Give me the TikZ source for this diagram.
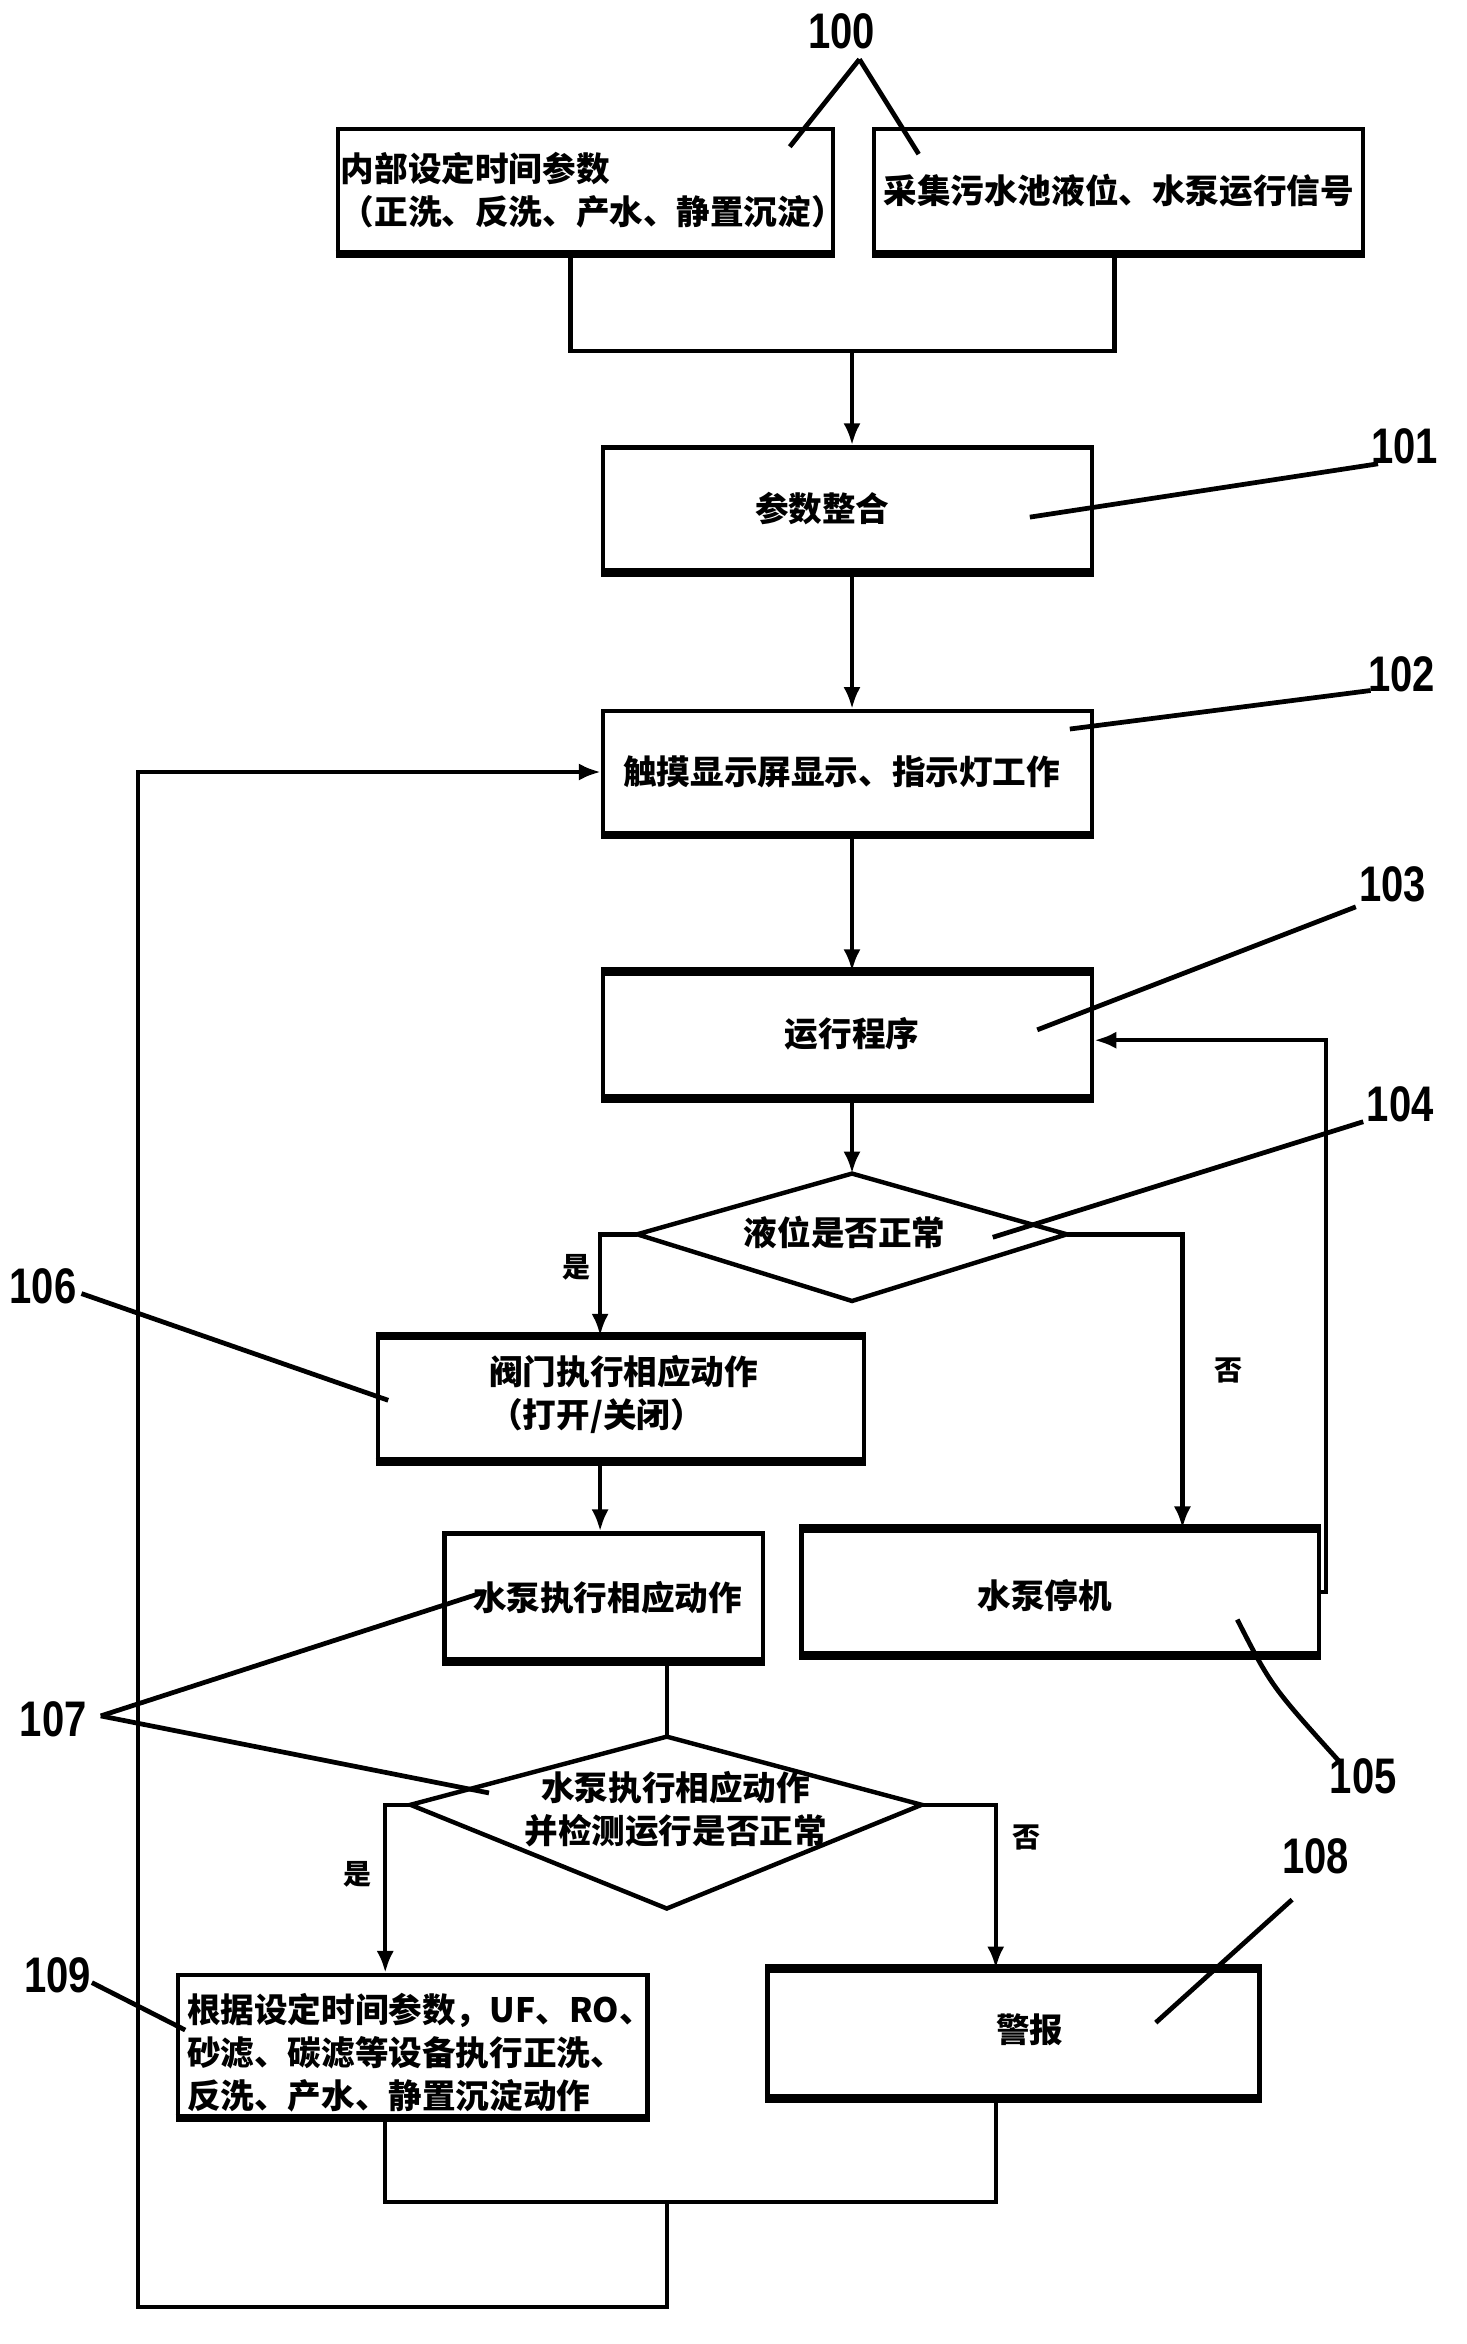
\documentclass[tikz,border=0pt]{standalone}
\usepackage{fontspec}
\usetikzlibrary{arrows.meta}
\setmainfont{Liberation Sans}
\newfontfamily\cjk{Noto Sans CJK SC}
\newfontfamily\numfont{Liberation Sans}[FakeStretch=0.8]
\newlength\px
\setlength\px{0.7409pt}
\tikzset{
  box/.style={draw, line width=3\px, inner sep=0pt, font=\cjk\bfseries\fontsize{16.8}{21.5}\selectfont},
  txt/.style={inner sep=0pt, font=\cjk\bfseries\fontsize{16.8}{21.5}\selectfont},
  yn/.style={inner sep=0pt, font=\cjk\bfseries\fontsize{14}{16}\selectfont},
  lbl/.style={inner sep=0pt, font=\numfont\bfseries\fontsize{25}{25}\selectfont},
  ln/.style={line width=3\px},
  arr/.style={line width=3\px, -{Latex[length=11pt,width=8.6pt]}},
  lead/.style={line width=3.2\px},
  edge/.style={line width=5.5\px}
}
\begin{document}
\begin{tikzpicture}[x=0.7409pt, y=-0.7409pt]
\useasboundingbox (0,0) rectangle (990,1581.9);
\fill[white] (0,0) rectangle (990,1581.9);

% boxes
\node[box, minimum width=334\px, minimum height=83\px, text width=330\px, align=left] (A) at (395,128.5)
  {\fontsize{16.8}{29\px}\selectfont 内部设定时间参数\\（正洗、反洗、产水、静置沉淀）};
\node[box, minimum width=330\px, minimum height=83\px] (B) at (755,128.5) {采集污水池液位、水泵运行信号};
\node[box, minimum width=330\px, minimum height=83\px] (C) at (572,343.5) {};
\node[txt] (Ct) at (555,343) {参数整合};
\node[box, minimum width=330\px, minimum height=82\px] (D) at (572,521) {};
\node[txt] (Dt) at (568,521) {触摸显示屏显示、指示灯工作};
\node[box, minimum width=330\px, minimum height=83\px] (E) at (572,698.5) {};
\node[txt] (Et) at (575,698) {运行程序};

% diamond F
\coordinate (Ft) at (575,792);
\coordinate (Fl) at (430,833);
\coordinate (Fr) at (720,833);
\coordinate (Fb) at (575,878);
\draw[ln] (Ft) -- (Fr) -- (Fb) -- (Fl) -- cycle;
\node[txt] (Fx) at (570,832) {液位是否正常};

\node[box, minimum width=328\px, minimum height=82\px] (G) at (419,944) {};
\node[txt, anchor=west, align=left] (Gt) at (330,941) {\fontsize{16.8}{28\px}\selectfont 阀门执行相应动作\\（打开/关闭）};
\node[box, minimum width=349\px, minimum height=83\px] (H) at (715.5,1074.5) {};
\node[txt] (Ht) at (705,1077) {水泵停机};
\node[box, minimum width=215\px, minimum height=85\px] (I) at (407.5,1077.5) {};
\node[txt] (It) at (410,1078) {水泵执行相应动作};

% diamond J
\coordinate (Jt) at (450,1172);
\coordinate (Jl) at (277,1218);
\coordinate (Jr) at (622,1218);
\coordinate (Jb) at (450,1288);
\draw[ln] (Jt) -- (Jr) -- (Jb) -- (Jl) -- cycle;
\node[txt, align=center] (Jx) at (456,1221) {\fontsize{16.8}{29\px}\selectfont 水泵执行相应动作\\并检测运行是否正常};

\node[box, minimum width=317\px, minimum height=95\px] (K) at (278.5,1380.5) {};
\node[txt, anchor=west, align=left] (Kt) at (126,1385) {\fontsize{16.8}{30\px}\selectfont 根据设定时间参数，UF、RO、\\砂滤、碳滤等设备执行正洗、\\反洗、产水、静置沉淀动作};
\node[box, minimum width=332\px, minimum height=85\px] (L) at (684,1372.5) {};
\node[txt] (Lt) at (695,1370) {警报};

% thick edges
\foreach \n in {A,B,C,D,E,G,H,I,K,L} {\draw[edge] (\n.south west) -- (\n.south east);}
\foreach \n in {E,G,H,L} {\draw[edge] (\n.north west) -- (\n.north east);}

% coordinates for routing
\coordinate (m1) at (575,237);
\coordinate (xa) at (385,0);
\coordinate (xb) at (752,0);
\coordinate (ys) at (405,0);
\coordinate (ns) at (798,0);
\coordinate (lp) at (895,702);
\coordinate (xj) at (450,0);
\coordinate (ky) at (260,0);
\coordinate (ly) at (672,0);
\coordinate (m2) at (450,1486);
\coordinate (b1) at (450,1557);
\coordinate (b2) at (93,1557);

% connectors
\draw[ln] (A.south -| xa) |- (m1) -| (B.south -| xb);
\draw[arr] (m1) -- (C.north -| m1);
\draw[arr] (C.south -| m1) -- (D.north -| m1);
\draw[arr] (D.south -| m1) -- (E.north -| m1);
\draw[arr] (E.south -| m1) -- (Ft);
\draw[arr] (Fl) -| (G.north -| ys);
\draw[arr] (Fr) -| (H.north -| ns);
\draw[arr] (G.south -| ys) -- (I.north -| ys);
\draw[arr] (H.east) -| (lp) -- (E.east |- lp);
\draw[ln] (I.south -| xj) -- (Jt);
\draw[arr] (Jl) -| (K.north -| ky);
\draw[arr] (Jr) -| (L.north -| ly);
\draw[ln] (K.south -| ky) |- (m2) -| (L.south -| ly);
\draw[arr] (m2) -- (b1) -- (b2) |- (D.west);

% yes/no labels
\node[yn] (y1) at (389,855) {是};
\node[yn] (n1) at (829,925) {否};
\node[yn] (y2) at (241,1265) {是};
\node[yn] (n2) at (693,1240) {否};

% reference numbers
\node[lbl] (r100) at (568,21) {100};
\node[lbl] (r101) at (948,301) {101};
\node[lbl] (r102) at (946,455) {102};
\node[lbl] (r103) at (940,597) {103};
\node[lbl] (r104) at (945,745) {104};
\node[lbl] (r105) at (920,1199) {105};
\node[lbl] (r106) at (29,868) {106};
\node[lbl] (r107) at (36,1160) {107};
\node[lbl] (r108) at (888,1253) {108};
\node[lbl] (r109) at (39,1333) {109};

\coordinate (p100) at (580,40);
\draw[lead] (p100) -- (533,99);
\draw[lead] (p100) -- (620,104);
\draw[lead] (930,313) -- (695,349);
\draw[lead] (925,466) -- (722,492);
\draw[lead] (915,612) -- (700,695);
\draw[lead] (920,757) -- (670,835);
\draw[lead] (835,1093) .. controls (858,1138) .. (905,1190);
\draw[lead] (55,873) -- (262,945);
\coordinate (p107) at (68,1158);
\draw[lead] (p107) -- (325,1075);
\draw[lead] (p107) -- (330,1210);
\draw[lead] (872,1282) -- (780,1365);
\draw[lead] (62,1338) -- (125,1370);
\end{tikzpicture}
\end{document}
